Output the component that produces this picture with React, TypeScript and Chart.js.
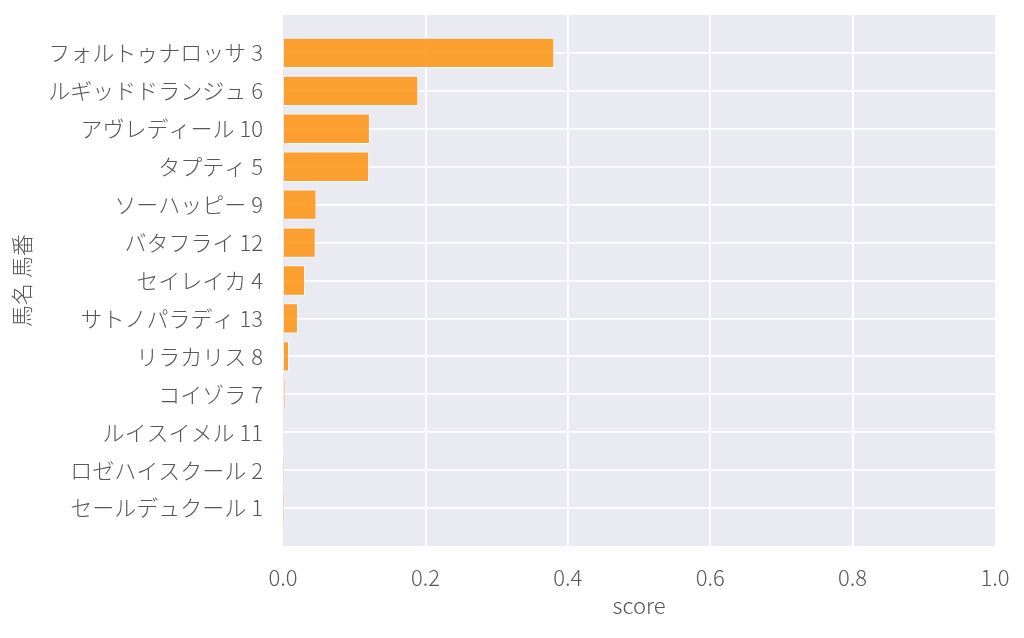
import { useEffect, useRef } from 'react';
import { Chart, registerables } from 'chart.js';

Chart.register(...registerables);

const horses = [
  'フォルトゥナロッサ 3',
  'ルギッドドランジュ 6',
  'アヴレディール 10',
  'タプティ 5',
  'ソーハッピー 9',
  'バタフライ 12',
  'セイレイカ 4',
  'サトノパラディ 13',
  'リラカリス 8',
  'コイゾラ 7',
  'ルイスイメル 11',
  'ロゼハイスクール 2',
  'セールデュクール 1',
];
const scores = [0.381, 0.19, 0.122, 0.121, 0.047, 0.046, 0.031, 0.021, 0.0085, 0.0028, 0.0012, 0.0003, 0.0001];
const xTicks = [0, 0.2, 0.4, 0.6, 0.8, 1.0];

const FONT = "'Noto Sans CJK JP Light', 'Noto Sans CJK JP', 'Noto Sans', sans-serif";
const TEXT = '#575757';

const plotBg = {
  id: 'plotBg',
  beforeDraw(chart: Chart) {
    const { ctx, chartArea } = chart;
    ctx.save();
    ctx.fillStyle = '#eaeaf2';
    ctx.fillRect(chartArea.left, chartArea.top, chartArea.right - chartArea.left, chartArea.bottom - chartArea.top);
    ctx.restore();
  },
};

export default function App() {
  const canvasRef = useRef<HTMLCanvasElement>(null);

  useEffect(() => {
    document.body.style.margin = '0';
    if (!canvasRef.current) return;
    const chart = new Chart(canvasRef.current, {
      type: 'bar',
      data: {
        labels: horses,
        datasets: [
          {
            data: scores.map((v, i) => ({ x: v, y: i })),
            backgroundColor: 'rgba(255,140,0,0.8)',
            borderColor: 'rgba(255,255,255,0.85)',
            borderWidth: 1,
            barPercentage: 1,
            categoryPercentage: 0.8,
          },
        ],
      },
      options: {
        indexAxis: 'y',
        responsive: false,
        animation: false,
        layout: { padding: { top: 15, right: 29, left: 0, bottom: 0 } },
        plugins: { legend: { display: false }, tooltip: { enabled: false } },
        scales: {
          x: {
            type: 'linear',
            min: 0,
            max: 1,
            afterBuildTicks: (scale: any) => {
              scale.ticks = xTicks.map((v) => ({ value: v }));
            },
            afterFit: (scale: any) => {
              scale.height = 92;
              scale.paddingLeft = 0;
              scale.paddingRight = 0;
            },
            border: { display: false },
            grid: {
              color: (c: any) => (c.tick && (c.tick.value === 0 || c.tick.value === 1) ? 'rgba(0,0,0,0)' : '#ffffff'),
              lineWidth: 1.8,
              drawTicks: false,
            },
            ticks: {
              padding: 18,
              color: TEXT,
              font: { family: FONT, size: 22, weight: 300 },
              callback: (v: any) => Number(v).toFixed(1),
            },
            title: {
              display: true,
              text: 'score',
              color: TEXT,
              font: { family: FONT, size: 22, weight: 300 },
              padding: { top: 4, bottom: 19 },
            },
          },
          y: {
            type: 'linear',
            min: -1,
            max: 13,
            reverse: true,
            offset: false,
            afterBuildTicks: (scale: any) => {
              scale.ticks = horses.map((_, i) => ({ value: i }));
            },
            afterFit: (scale: any) => {
              scale.width = 283;
              scale.paddingTop = 0;
              scale.paddingBottom = 0;
            },
            border: { display: false },
            grid: { color: '#ffffff', lineWidth: 1.8, drawTicks: false, offset: false },
            ticks: {
              padding: 20,
              autoSkip: false,
              color: TEXT,
              font: { family: FONT, size: 22, weight: 300 },
              callback: (v: any) => horses[v] ?? '',
            },
            title: {
              display: true,
              text: '馬名 馬番',
              color: TEXT,
              font: { family: FONT, size: 22, weight: 300 },
              padding: { top: 8, bottom: 0 },
            },
          },
        },
      },
      plugins: [plotBg],
    });
    return () => chart.destroy();
  }, []);

  return (
    <div style={{ width: 1024, height: 638 }}>
      <canvas ref={canvasRef} width={1024} height={638} />
    </div>
  );
}
